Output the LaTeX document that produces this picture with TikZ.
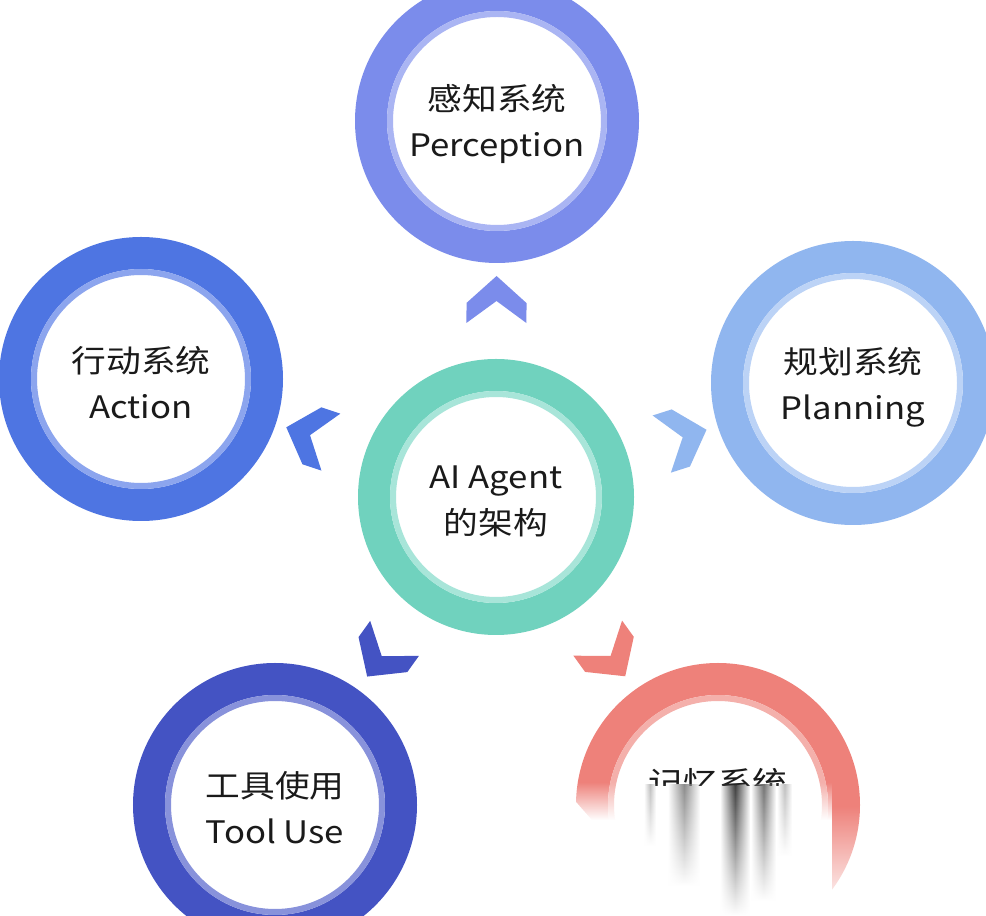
\documentclass[tikz,border=0pt]{standalone}
\usepackage{fontspec}
\setmainfont[FakeStretch=1.12]{Noto Sans CJK SC}
\usetikzlibrary{calc,fadings}

\definecolor{cPer}{HTML}{7B8CEB}
\definecolor{cPerL}{HTML}{AAB5F3}
\definecolor{cAg}{HTML}{70D2BE}
\definecolor{cAgL}{HTML}{A8E5D9}
\definecolor{cAct}{HTML}{4E75E2}
\definecolor{cActL}{HTML}{8CA5EE}
\definecolor{cPl}{HTML}{90B6EF}
\definecolor{cPlL}{HTML}{BCD3F6}
\definecolor{cTool}{HTML}{4453C3}
\definecolor{cToolL}{HTML}{8892DB}
\definecolor{cMem}{HTML}{EE817A}
\definecolor{cMemL}{HTML}{F4B0AB}
\definecolor{txt}{HTML}{1A1A1A}

\tikzfading[name=wmfade, top color=transparent!100, bottom color=transparent!0]
\tikzfading[name=streakfade, left color=transparent!100, right color=transparent!100, middle color=transparent!0]

\tikzset{
  ring/.style={circle, draw=#1, line width=32pt, minimum size=252pt, inner sep=0pt, outer sep=0pt},
  bigring/.style={circle, draw=#1, line width=32pt, minimum size=244pt, inner sep=0pt, outer sep=0pt},
  inring/.style={draw=#1, line width=6pt},
  lbl/.style={align=center, text=txt, font=\fontsize{31}{46}\selectfont, inner sep=0pt},
  chev/.pic={\fill (24,0) -- (-3,30) -- (-23,30) -- (-1,0) -- (-23,-30) -- (-3,-30) -- cycle;},
  streak/.style={top color=black!#1, bottom color=white, path fading=streakfade}
}

\begin{document}
\begin{tikzpicture}[x=1pt, y=1pt]
\clip (0,0) rectangle (986,916);
\fill[white] (0,0) rectangle (986,916);

% circles (y = 916 - pixel y)
\node[bigring=cAg] (ag) at (496,419) {};
\draw[inring=cAgL] (ag.center) circle[radius=103];
\node[ring=cPer] (per) at (497,795) {};
\draw[inring=cPerL] (per.center) circle[radius=107];
\node[ring=cAct] (act) at (141,537) {};
\draw[inring=cActL] (act.center) circle[radius=107];
\node[ring=cPl] (pl) at (853,533) {};
\draw[inring=cPlL] (pl.center) circle[radius=107];
\node[ring=cTool] (tool) at (275,111) {};
\draw[inring=cToolL] (tool.center) circle[radius=107];
\node[ring=cMem] (mem) at (718,111) {};
\draw[inring=cMemL] (mem.center) circle[radius=107];

% labels
\node[lbl] (agT) at ($(ag.center)+(0,-4)$) {AI Agent\\的架构};
\node[lbl] (perT) at ($(per.center)+(0,-3)$) {感知系统\\Perception};
\node[lbl] (actT) at ($(act.center)+(0,-4)$) {行动系统\\Action};
\node[lbl] (plT) at ($(pl.center)+(0,-4)$) {规划系统\\Planning};
\node[lbl] (toolT) at ($(tool.center)+(0,-3)$) {工具使用\\Tool Use};

% chevrons
\foreach \tgt/\col in {per/cPer, act/cAct, pl/cPl, tool/cTool, mem/cMem}{
  \path let \p1=($(\tgt.center)-(ag.center)$), \n1={atan2(\y1,\x1)} in
    pic[rotate=\n1, fill=\col] at ($(ag.center)!197pt!(\tgt.center)$) {chev};
}

% memory label, partly hidden
\begin{scope}
\clip (560,130) rectangle (880,200);
\node[lbl] (memT) at ($(mem.center)+(0,-3)$) {记忆系统\\\phantom{Memory}};
\end{scope}

% white overlay (watermark)
\fill[white, path fading=wmfade] (555,134) rectangle (832,96);
\fill[white] (555,96) rectangle (832,0);
\fill[white, path fading=wmfade, opacity=0.85] (832,110) rectangle (880,20);
\fill[white, opacity=0.85] (832,20) rectangle (880,0);
\fill[white] (540,116) -- (576,114) -- (676,0) -- (540,0) -- cycle;

% smeared text streaks
\shade[streak=25] (644,131) rectangle (656,70);
\shade[streak=45] (668,131) rectangle (700,30);
\shade[streak=75] (720,131) rectangle (750,0);
\shade[streak=55] (751,131) rectangle (776,15);
\shade[streak=25] (777,131) rectangle (792,60);
\end{tikzpicture}
\end{document}
